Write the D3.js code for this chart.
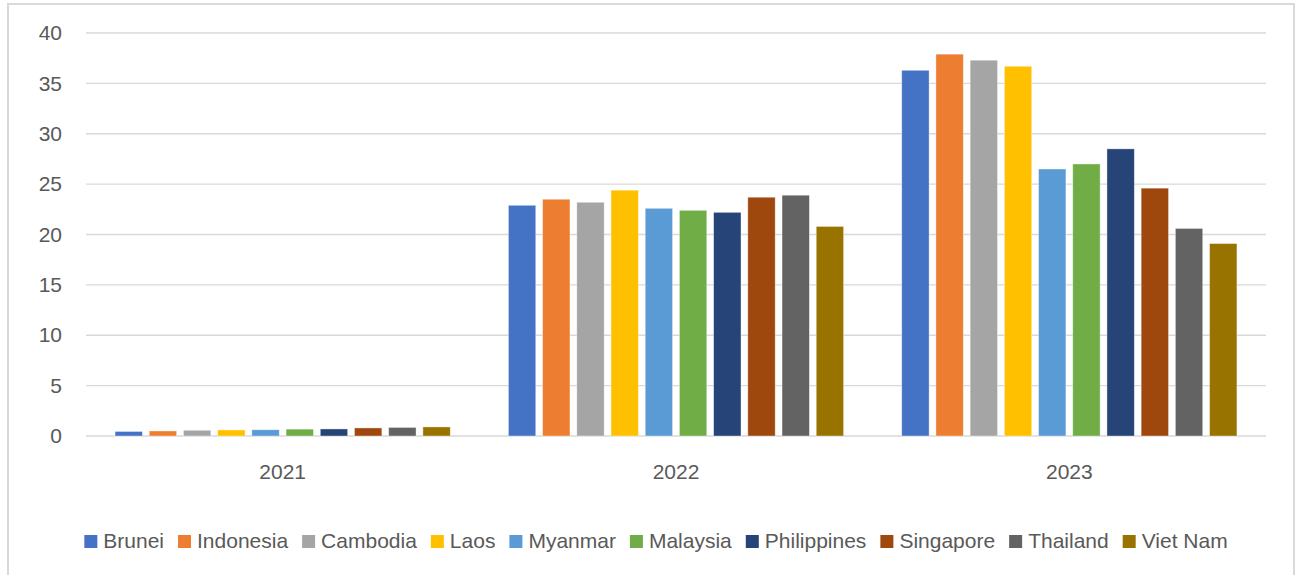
<!DOCTYPE html>
<html>
<head>
<meta charset="utf-8">
<script src="https://cdn.jsdelivr.net/npm/d3@7"></script>
<style>
    body { margin: 0; background: #fff; }
    text { font-family: "Liberation Sans", Arial, sans-serif; fill: #595959; }
</style>
</head>
<body>
<div id="chart"></div>
<script>
const years = ["2021", "2022", "2023"];
const countries = ["Brunei", "Indonesia", "Cambodia", "Laos", "Myanmar", "Malaysia", "Philippines", "Singapore", "Thailand", "Viet Nam"];
const colors = ["#4472C4", "#ED7D31", "#A5A5A5", "#FFC000", "#5B9BD5", "#70AD47", "#264478", "#9E480E", "#636363", "#997300"];
// one array per year, in country order
const values2021 = [0.45, 0.5, 0.57, 0.6, 0.62, 0.68, 0.7, 0.8, 0.85, 0.9];
const values2022 = [22.9, 23.5, 23.2, 24.4, 22.6, 22.4, 22.2, 23.7, 23.9, 20.8];
const values2023 = [36.3, 37.9, 37.3, 36.7, 26.5, 27.0, 28.5, 24.6, 20.6, 19.1];
const yTicks = [0, 5, 10, 15, 20, 25, 30, 35, 40];

const seriesByYear = { "2021": values2021, "2022": values2022, "2023": values2023 };

const width = 1299, height = 575;
const margin = { top: 33, right: 33, bottom: 139, left: 86 };

const svg = d3.select("#chart").append("svg")
    .attr("width", width)
    .attr("height", height);

// chart area border
svg.append("rect")
    .attr("x", 8)
    .attr("y", 4)
    .attr("width", 1286)
    .attr("height", 600)
    .attr("fill", "none")
    .attr("stroke", "#d9d9d9")
    .attr("stroke-width", 2);

const x = d3.scaleBand()
    .domain(years)
    .range([margin.left, width - margin.right]);

const xInner = d3.scaleBand()
    .domain(countries)
    .range([0, x.bandwidth()])
    .paddingInner(0.2)
    .paddingOuter(0.85);

const y = d3.scaleLinear()
    .domain([0, 40])
    .range([height - margin.bottom, margin.top]);

// gridlines
svg.append("g")
    .selectAll("line")
    .data(yTicks)
    .enter().append("line")
    .attr("x1", margin.left)
    .attr("x2", width - margin.right)
    .attr("y1", d => y(d))
    .attr("y2", d => y(d))
    .attr("stroke", "#d9d9d9")
    .attr("stroke-width", 1.3);

// y axis labels
const yAxis = svg.append("g")
    .attr("transform", `translate(${margin.left}, 0)`)
    .call(d3.axisLeft(y).tickValues(yTicks).tickSize(0).tickPadding(24));
yAxis.select(".domain").remove();
yAxis.selectAll("text")
    .style("font-family", "'Liberation Sans', Arial, sans-serif")
    .style("font-size", "21px")
    .attr("fill", "#595959");

// bars
const groups = svg.append("g")
    .selectAll("g")
    .data(years)
    .enter().append("g")
    .attr("transform", d => `translate(${x(d)}, 0)`);

groups.selectAll("rect")
    .data(yr => seriesByYear[yr].map((v, i) => ({ country: countries[i], value: v, color: colors[i] })))
    .enter().append("rect")
    .attr("x", d => xInner(d.country))
    .attr("y", d => y(d.value))
    .attr("width", xInner.bandwidth())
    .attr("height", d => y(0) - y(d.value))
    .attr("fill", d => d.color)
    .attr("stroke", "#ffffff")
    .attr("stroke-opacity", 0.5)
    .attr("stroke-width", 0.75);

// x axis labels
const xAxis = svg.append("g")
    .attr("transform", `translate(0, ${y(0)})`)
    .call(d3.axisBottom(x).tickSize(0).tickPadding(28));
xAxis.select(".domain").remove();
xAxis.selectAll("text")
    .style("font-family", "'Liberation Sans', Arial, sans-serif")
    .style("font-size", "21px")
    .attr("fill", "#595959");

// legend
const legend = svg.append("g");
const items = legend.selectAll("g")
    .data(countries)
    .enter().append("g");

items.append("rect")
    .attr("width", 13)
    .attr("height", 13)
    .attr("y", -13)
    .attr("fill", (d, i) => colors[i]);

items.append("text")
    .attr("x", 19)
    .attr("y", 0)
    .style("font-size", "21px")
    .text(d => d);

let cursor = 0;
items.each(function () {
    const w = d3.select(this).select("text").node().getComputedTextLength();
    d3.select(this).attr("transform", `translate(${cursor}, 0)`);
    cursor += 19 + w + 14;
});
const legendWidth = cursor - 14;
legend.attr("transform", `translate(${656 - legendWidth / 2}, 548)`);
</script>
</body>
</html>
